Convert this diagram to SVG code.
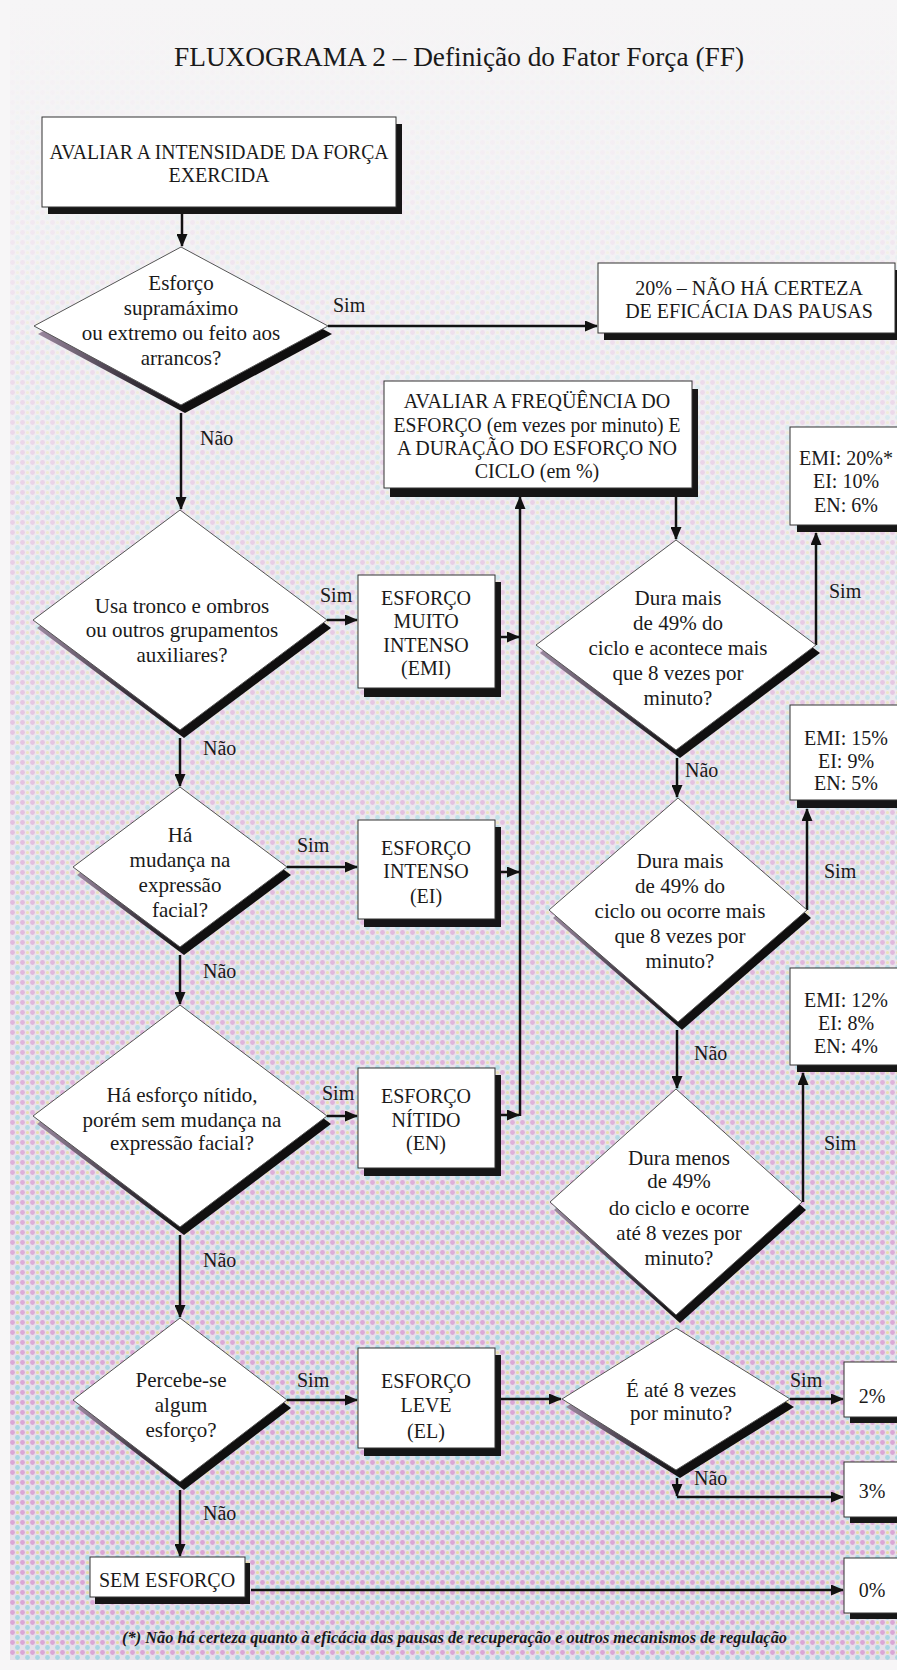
<svg xmlns="http://www.w3.org/2000/svg" width="897" height="1670" viewBox="0 0 897 1670">
<style>
text{font-family:"Liberation Serif","Times New Roman",serif;fill:#1a1a1a}
.t{font-size:21px;text-anchor:middle}
.c{font-size:20px;text-anchor:middle}
.l{font-size:20px}
.box{fill:#ffffff;stroke:#333;stroke-width:1}
.bsh{fill:#161616}
.dia{fill:#ffffff;stroke:#555;stroke-width:1}
.dsh{fill:url(#dshg)}
.cn{fill:none;stroke:#111;stroke-width:2.5}
</style>
<defs>
<pattern id="dots" patternUnits="userSpaceOnUse" width="10" height="10">
<rect width="10" height="10" fill="#e6e0ea"/>
<circle cx="2.5" cy="2.5" r="2.4" fill="#daa6d6"/>
<circle cx="7.5" cy="7.5" r="2.4" fill="#a9d7e3"/>
<circle cx="7.5" cy="2.5" r="1.6" fill="#e6dfa6"/>
</pattern>
<linearGradient id="fade" x1="0" y1="0" x2="0" y2="1">
<stop offset="0" stop-color="#f6f5f6" stop-opacity="1"/>
<stop offset="0.1" stop-color="#f6f5f6" stop-opacity="0.9"/>
<stop offset="0.3" stop-color="#f6f5f6" stop-opacity="0.55"/>
<stop offset="0.6" stop-color="#f6f5f6" stop-opacity="0.2"/>
<stop offset="0.85" stop-color="#f6f5f6" stop-opacity="0"/>
</linearGradient>
<linearGradient id="dshg" x1="0" y1="0" x2="1" y2="0">
<stop offset="0" stop-color="#9a889f"/>
<stop offset="0.3" stop-color="#3d3540"/>
<stop offset="0.5" stop-color="#111"/>
<stop offset="1" stop-color="#0d0d0d"/>
</linearGradient>
<marker id="ah" markerUnits="userSpaceOnUse" markerWidth="14" markerHeight="11" refX="12" refY="5.5" orient="auto">
<path d="M0,0 L13,5.5 L0,11 Z" fill="#111"/>
</marker>
</defs>

<g id="background">
<rect x="0" y="0" width="897" height="1670" fill="#f7f6f7"/>
<rect x="10" y="0" width="887" height="1660" fill="url(#dots)"/>
<rect x="10" y="0" width="887" height="1660" fill="url(#fade)"/>
</g>

<text id="title" x="459" y="66" font-size="28" text-anchor="middle" textLength="570" lengthAdjust="spacingAndGlyphs">FLUXOGRAMA 2  – Definição do Fator Força (FF)</text>

<g id="connectors">
<path class="cn" d="M182,214 V246" marker-end="url(#ah)"/>
<path class="cn" d="M328,326 H597" marker-end="url(#ah)"/>
<path class="cn" d="M181,413 V509" marker-end="url(#ah)"/>
<path class="cn" d="M327,620 H357" marker-end="url(#ah)"/>
<path class="cn" d="M180,738 V786" marker-end="url(#ah)"/>
<path class="cn" d="M287,867 H357" marker-end="url(#ah)"/>
<path class="cn" d="M180,955 V1004" marker-end="url(#ah)"/>
<path class="cn" d="M327,1116 H357" marker-end="url(#ah)"/>
<path class="cn" d="M180,1235 V1317" marker-end="url(#ah)"/>
<path class="cn" d="M287,1400 H357" marker-end="url(#ah)"/>
<path class="cn" d="M180,1490 V1556" marker-end="url(#ah)"/>
<path class="cn" d="M501,637 H519" marker-end="url(#ah)"/>
<path class="cn" d="M501,872 H519" marker-end="url(#ah)"/>
<path class="cn" d="M501,1115 H519" marker-end="url(#ah)"/>
<path class="cn" d="M520,1116 V497" marker-end="url(#ah)"/>
<path class="cn" d="M676,497 V539" marker-end="url(#ah)"/>
<path class="cn" d="M816,645 V533" marker-end="url(#ah)"/>
<path class="cn" d="M677,758 V797" marker-end="url(#ah)"/>
<path class="cn" d="M807,910 V809" marker-end="url(#ah)"/>
<path class="cn" d="M677,1030 V1088" marker-end="url(#ah)"/>
<path class="cn" d="M803,1202 V1073" marker-end="url(#ah)"/>
<path class="cn" d="M501,1399 H561" marker-end="url(#ah)"/>
<path class="cn" d="M790,1399 H843" marker-end="url(#ah)"/>
<path class="cn" d="M677,1478 V1496" marker-end="url(#ah)"/>
<path class="cn" d="M677,1497 H843" marker-end="url(#ah)"/>
<path class="cn" d="M251,1590 H843" marker-end="url(#ah)"/>
<text class="l" x="333" y="312">Sim</text>
<text class="l" x="200" y="445">Não</text>
<text class="l" x="320" y="602">Sim</text>
<text class="l" x="203" y="755">Não</text>
<text class="l" x="297" y="852">Sim</text>
<text class="l" x="203" y="978">Não</text>
<text class="l" x="322" y="1100">Sim</text>
<text class="l" x="203" y="1267">Não</text>
<text class="l" x="297" y="1387">Sim</text>
<text class="l" x="203" y="1520">Não</text>
<text class="l" x="829" y="598">Sim</text>
<text class="l" x="685" y="777">Não</text>
<text class="l" x="824" y="878">Sim</text>
<text class="l" x="694" y="1060">Não</text>
<text class="l" x="824" y="1150">Sim</text>
<text class="l" x="790" y="1387">Sim</text>
<text class="l" x="694" y="1485">Não</text>
</g>

<g id="n-avaliar-intensidade">
<rect class="bsh" x="48" y="124" width="354" height="90"/>
<rect class="box" x="42" y="117" width="354" height="90"/>
<text class="c" x="219" y="159" textLength="339" lengthAdjust="spacingAndGlyphs">AVALIAR A INTENSIDADE DA FORÇA</text>
<text class="c" x="219" y="182">EXERCIDA</text>
</g>

<g id="n-supramaximo">
<polygon class="dsh" points="185,255 332,334 185,413 38,334"/>
<polygon class="dia" points="181,247 328,326 181,405 34,326"/>
<text class="t" x="181" y="290">Esforço</text>
<text class="t" x="181" y="315">supramáximo</text>
<text class="t" x="181" y="340">ou extremo ou feito aos</text>
<text class="t" x="181" y="365">arrancos?</text>
</g>

<g id="n-20-pausas">
<rect class="bsh" x="604" y="270" width="300" height="70"/>
<rect class="box" x="598" y="263" width="297" height="70"/>
<text class="c" x="749" y="295">20% – NÃO HÁ CERTEZA</text>
<text class="c" x="749" y="318">DE EFICÁCIA DAS PAUSAS</text>
</g>

<g id="n-avaliar-frequencia">
<rect class="bsh" x="390" y="389" width="308" height="108"/>
<rect class="box" x="384" y="381" width="308" height="107"/>
<text class="c" x="537" y="408">AVALIAR A FREQÜÊNCIA DO</text>
<text class="c" x="537" y="432" textLength="287" lengthAdjust="spacingAndGlyphs">ESFORÇO (em vezes por minuto) E</text>
<text class="c" x="537" y="455">A DURAÇÃO DO ESFORÇO NO</text>
<text class="c" x="537" y="478">CICLO (em %)</text>
</g>

<g id="n-emi20">
<rect class="bsh" x="797" y="434" width="120" height="98"/>
<rect class="box" x="790" y="427" width="120" height="98"/>
<text class="c" x="846" y="465">EMI: 20%*</text>
<text class="c" x="846" y="488">EI: 10%</text>
<text class="c" x="846" y="512">EN: 6%</text>
</g>

<g id="n-tronco">
<polygon class="dsh" points="184,518 331,628 184,738 37,628"/>
<polygon class="dia" points="180,510 327,620 180,730 33,620"/>
<text class="t" x="182" y="613">Usa tronco e ombros</text>
<text class="t" x="182" y="637">ou outros grupamentos</text>
<text class="t" x="182" y="662">auxiliares?</text>
</g>

<g id="n-emi">
<rect class="bsh" x="364" y="582" width="137" height="115"/>
<rect class="box" x="358" y="575" width="137" height="113"/>
<text class="c" x="426" y="605">ESFORÇO</text>
<text class="c" x="426" y="628">MUITO</text>
<text class="c" x="426" y="652">INTENSO</text>
<text class="c" x="426" y="675">(EMI)</text>
</g>

<g id="n-dura-mais-e">
<polygon class="dsh" points="680,548 820,653 680,758 540,653"/>
<polygon class="dia" points="676,540 816,645 676,750 536,645"/>
<text class="t" x="678" y="605">Dura mais</text>
<text class="t" x="678" y="630">de 49% do</text>
<text class="t" x="678" y="655">ciclo e acontece mais</text>
<text class="t" x="678" y="680">que 8 vezes por</text>
<text class="t" x="678" y="705">minuto?</text>
</g>

<g id="n-emi15">
<rect class="bsh" x="797" y="712" width="120" height="96"/>
<rect class="box" x="790" y="705" width="120" height="95"/>
<text class="c" x="846" y="745">EMI: 15%</text>
<text class="c" x="846" y="768">EI: 9%</text>
<text class="c" x="846" y="790">EN: 5%</text>
</g>

<g id="n-expressao">
<polygon class="dsh" points="184,795 291,875 184,955 77,875"/>
<polygon class="dia" points="180,787 287,867 180,947 73,867"/>
<text class="t" x="180" y="842">Há</text>
<text class="t" x="180" y="867">mudança na</text>
<text class="t" x="180" y="892">expressão</text>
<text class="t" x="180" y="917">facial?</text>
</g>

<g id="n-ei">
<rect class="bsh" x="364" y="827" width="137" height="100"/>
<rect class="box" x="358" y="820" width="137" height="99"/>
<text class="c" x="426" y="855">ESFORÇO</text>
<text class="c" x="426" y="878">INTENSO</text>
<text class="c" x="426" y="903">(EI)</text>
</g>

<g id="n-dura-mais-ou">
<polygon class="dsh" points="682,806 811,918 682,1030 553,918"/>
<polygon class="dia" points="678,798 807,910 678,1022 549,910"/>
<text class="t" x="680" y="868">Dura mais</text>
<text class="t" x="680" y="893">de 49% do</text>
<text class="t" x="680" y="918">ciclo ou ocorre mais</text>
<text class="t" x="680" y="943">que 8 vezes por</text>
<text class="t" x="680" y="968">minuto?</text>
</g>

<g id="n-emi12">
<rect class="bsh" x="797" y="975" width="120" height="97"/>
<rect class="box" x="790" y="968" width="120" height="97"/>
<text class="c" x="846" y="1007">EMI: 12%</text>
<text class="c" x="846" y="1030">EI: 8%</text>
<text class="c" x="846" y="1053">EN: 4%</text>
</g>

<g id="n-nitido">
<polygon class="dsh" points="184,1013 331,1124 184,1235 37,1124"/>
<polygon class="dia" points="180,1005 327,1116 180,1227 33,1116"/>
<text class="t" x="182" y="1102">Há esforço nítido,</text>
<text class="t" x="182" y="1127">porém sem mudança na</text>
<text class="t" x="182" y="1150">expressão facial?</text>
</g>

<g id="n-en">
<rect class="bsh" x="364" y="1075" width="137" height="101"/>
<rect class="box" x="358" y="1068" width="137" height="100"/>
<text class="c" x="426" y="1103">ESFORÇO</text>
<text class="c" x="426" y="1127">NÍTIDO</text>
<text class="c" x="426" y="1150">(EN)</text>
</g>

<g id="n-dura-menos">
<polygon class="dsh" points="680,1097 806,1210 680,1323 554,1210"/>
<polygon class="dia" points="676,1089 802,1202 676,1315 550,1202"/>
<text class="t" x="679" y="1165">Dura menos</text>
<text class="t" x="679" y="1188">de 49%</text>
<text class="t" x="679" y="1215">do ciclo e ocorre</text>
<text class="t" x="679" y="1240">até 8 vezes por</text>
<text class="t" x="679" y="1265">minuto?</text>
</g>

<g id="n-percebe">
<polygon class="dsh" points="184,1326 291,1408 184,1490 77,1408"/>
<polygon class="dia" points="180,1318 287,1400 180,1482 73,1400"/>
<text class="t" x="181" y="1387">Percebe-se</text>
<text class="t" x="181" y="1412">algum</text>
<text class="t" x="181" y="1437">esforço?</text>
</g>

<g id="n-el">
<rect class="bsh" x="364" y="1355" width="137" height="101"/>
<rect class="box" x="358" y="1348" width="137" height="100"/>
<text class="c" x="426" y="1388">ESFORÇO</text>
<text class="c" x="426" y="1412">LEVE</text>
<text class="c" x="426" y="1438">(EL)</text>
</g>

<g id="n-ate-8">
<polygon class="dsh" points="680,1336 794,1407 680,1478 566,1407"/>
<polygon class="dia" points="676,1328 790,1399 676,1470 562,1399"/>
<text class="t" x="681" y="1397">É até 8 vezes</text>
<text class="t" x="681" y="1420">por minuto?</text>
</g>

<g id="n-2">
<rect class="bsh" x="850" y="1368" width="66" height="55"/>
<rect class="box" x="844" y="1362" width="66" height="55"/>
<text class="c" x="872" y="1403">2%</text>
</g>

<g id="n-3">
<rect class="bsh" x="850" y="1468" width="66" height="55"/>
<rect class="box" x="844" y="1462" width="66" height="55"/>
<text class="c" x="872" y="1498">3%</text>
</g>

<g id="n-sem">
<rect class="bsh" x="95" y="1563" width="155" height="41"/>
<rect class="box" x="90" y="1557" width="155" height="40"/>
<text class="c" x="167" y="1587">SEM ESFORÇO</text>
</g>

<g id="n-0">
<rect class="bsh" x="850" y="1564" width="66" height="55"/>
<rect class="box" x="844" y="1558" width="66" height="55"/>
<text class="c" x="872" y="1597">0%</text>
</g>

<text id="footnote" x="122" y="1643" font-size="16" font-weight="bold" font-style="italic" fill="#1b1b3b" textLength="665" lengthAdjust="spacingAndGlyphs">(*) Não há certeza quanto à eficácia das pausas de recuperação e outros mecanismos de regulação</text>
</svg>
